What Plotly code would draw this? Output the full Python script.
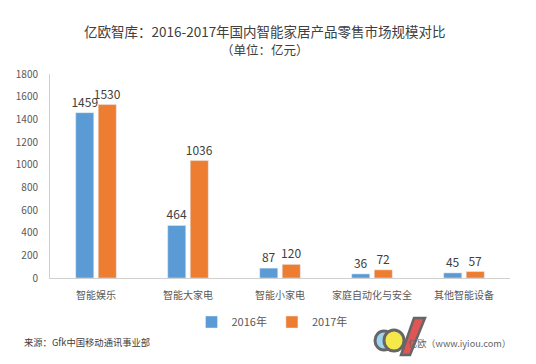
import plotly.graph_objects as go

categories = ["智能娱乐", "智能大家电", "智能小家电", "家庭自动化与安全", "其他智能设备"]
values_2016 = [1459, 464, 87, 36, 45]
values_2017 = [1530, 1036, 120, 72, 57]
series_names = ["2016年", "2017年"]
y_ticks = [0, 200, 400, 600, 800, 1000, 1200, 1400, 1600, 1800]

FONT = "Noto Sans CJK SC"
TXT = "#595959"

W, H = 536, 364
L, R, T, B = 50, 26, 74, 86
PW, PH = W - L - R, H - T - B


def px(x):
    return (x - L) / PW


def py(y):
    return (H - B - y) / PH


fig = go.Figure()
fig.add_trace(go.Bar(
    x=categories, y=values_2016, name=series_names[0],
    marker_color="#5B9BD5", text=values_2016, textposition="outside",
    constraintext="none",
    textfont=dict(size=12, color="#404040"), cliponaxis=False,
))
fig.add_trace(go.Bar(
    x=categories, y=values_2017, name=series_names[1],
    marker_color="#ED7D31", text=values_2017, textposition="outside",
    constraintext="none",
    textfont=dict(size=12, color="#404040"), cliponaxis=False,
))

fig.update_layout(
    width=W, height=H,
    margin=dict(l=L, r=R, t=T, b=B, autoexpand=False),
    paper_bgcolor="white", plot_bgcolor="white",
    font=dict(family=FONT, size=11, color=TXT),
    barmode="group", bargap=0.51, bargroupgap=0.2,
    showlegend=True,
    legend=dict(orientation="h", x=px(272), xanchor="center", y=py(322), yanchor="middle",
                font=dict(size=11, color=TXT), itemwidth=30, tracegroupgap=0,
                bgcolor="rgba(0,0,0,0)"),
    xaxis=dict(showline=True, linecolor="#d0d0d0", linewidth=1, ticks="",
               tickfont=dict(size=10, color=TXT), showgrid=False, ticklabelstandoff=8),
    yaxis=dict(range=[0, 1800], tickvals=y_ticks, showgrid=False, zeroline=False,
               showline=True, linecolor="#d0d0d0", linewidth=1, ticks="",
               tickfont=dict(size=10, color=TXT), ticklabelstandoff=9),
    annotations=[
        dict(text="亿欧智库：2016-2017年国内智能家居产品零售市场规模对比", xref="paper", yref="paper",
             x=px(265), y=py(31), xanchor="center", yanchor="middle",
             showarrow=False, font=dict(size=13.5, color="#404040", family=FONT)),
        dict(text="（单位：亿元）", xref="paper", yref="paper",
             x=px(265), y=py(50), xanchor="center", yanchor="middle",
             showarrow=False, font=dict(size=12.5, color="#404040", family=FONT)),
        dict(text="来源：Gfk中国移动通讯事业部", xref="paper", yref="paper",
             x=px(22), y=py(342), xanchor="left", yanchor="middle",
             showarrow=False, font=dict(size=9.3, color="#404040", family=FONT)),
        dict(text="亿欧（www.iyiou.com）", xref="paper", yref="paper",
             x=px(513), y=py(343), xanchor="right", yanchor="middle",
             showarrow=False, font=dict(size=9.2, color="#666666", family=FONT)),
    ],
    shapes=[
        dict(type="circle", xref="paper", yref="paper",
             x0=px(375), x1=px(393), y0=py(350), y1=py(331),
             fillcolor="#9fd3f0", line=dict(color="#666666", width=3)),
        dict(type="circle", xref="paper", yref="paper",
             x0=px(384), x1=px(404), y0=py(351), y1=py(330),
             fillcolor="#f5e94a", line=dict(color="#666666", width=3)),
        dict(type="path", xref="paper", yref="paper",
             path="M {a},{b} L {c},{d} L {e},{f} L {g},{h} Z".format(
                 a=px(401), b=py(355), c=px(410), d=py(355),
                 e=px(425), f=py(318), g=px(414), h=py(318)),
             fillcolor="#e05555", line=dict(color="#666666", width=2.5)),
    ],
)

fig.write_html(
    "out.html",
    config={"displayModeBar": False},
    post_script="document.body.style.margin='0';document.body.style.overflow='hidden';",
)
